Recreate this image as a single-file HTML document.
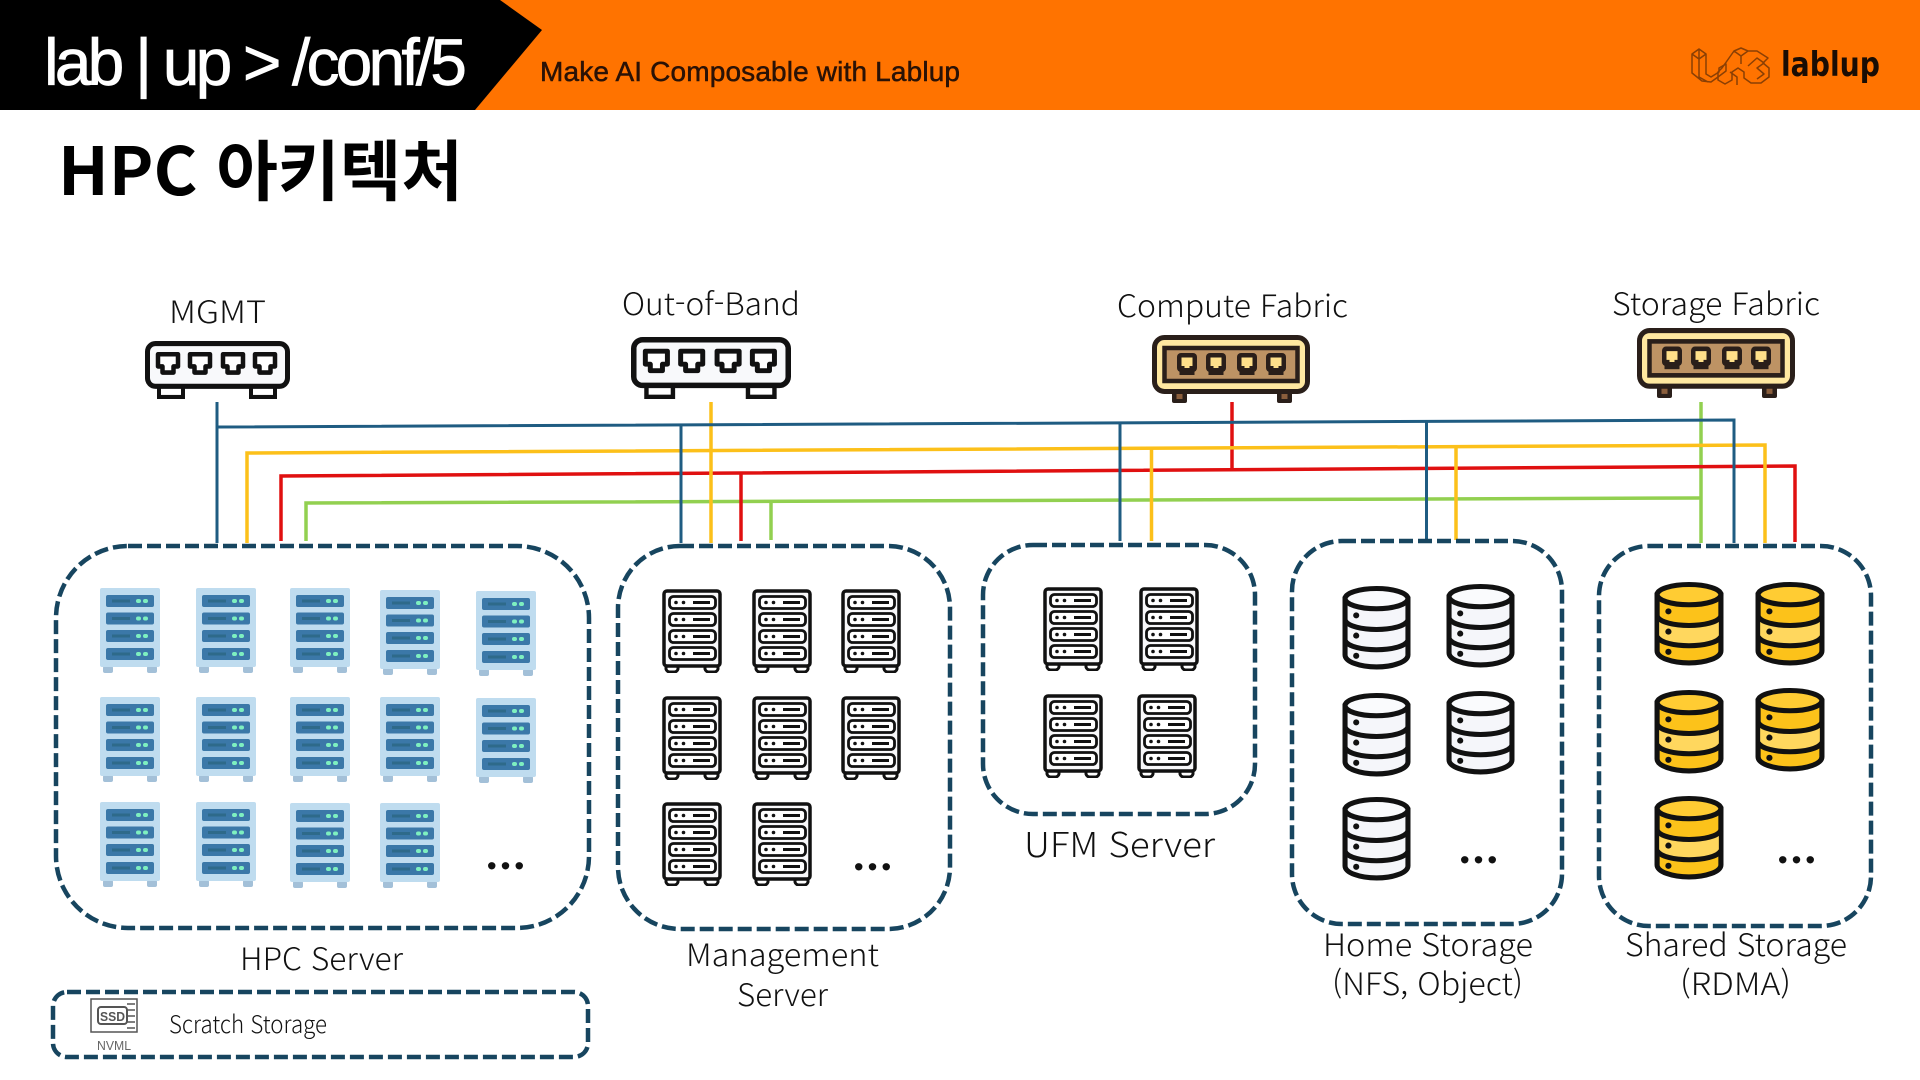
<!DOCTYPE html>
<html lang="ko"><head><meta charset="utf-8"><title>HPC 아키텍처</title>
<style>
html,body{margin:0;padding:0;background:#fff;width:1920px;height:1080px;overflow:hidden}
svg{display:block}
.l{font-family:"Noto Sans CJK KR","Liberation Sans",sans-serif;font-size:31px;fill:#111;font-weight:300}
.b{fill:none;stroke:#17455f;stroke-width:4.5;stroke-dasharray:14 5}
.d{font-family:"Liberation Serif",serif;font-size:46px;font-weight:700;fill:#111}
</style></head><body>
<svg width="1920" height="1080" viewBox="0 0 1920 1080" xmlns="http://www.w3.org/2000/svg">
<defs>
<symbol id="sb" viewBox="0 0 60 85" preserveAspectRatio="none">
<rect x="3" y="78" width="10" height="7" rx="2" fill="#a3c0d8"/><rect x="47" y="78" width="10" height="7" rx="2" fill="#a3c0d8"/>
<rect width="60" height="79" rx="2" fill="#bfdcef"/>
<g id="sl"><rect x="6" y="7" width="48" height="12" rx="2" fill="#3b78a8"/><rect x="12" y="11.500" width="18" height="3" fill="#2e6a8a"/><rect x="36" y="11" width="5" height="4" rx="2" fill="#7ef0c0"/><rect x="43" y="11" width="5" height="4" rx="2" fill="#7ef0c0"/></g>
<use href="#sl" y="17.500"/><use href="#sl" y="35"/><use href="#sl" y="53"/>
</symbol>
<symbol id="sk" viewBox="0 0 60 84" preserveAspectRatio="none">
<path d="M4 77v3a4 4 0 0 0 4 3h4a4 4 0 0 0 4-3v-3M43 77v3a4 4 0 0 0 4 3h5a4 4 0 0 0 4-3v-3" fill="#fff" stroke="#111" stroke-width="3"/>
<rect x="2" y="2" width="56" height="75" rx="3" fill="#f8f8fa" stroke="#111" stroke-width="3.500"/>
<g id="kl"><rect x="7.500" y="7.500" width="46" height="12" rx="4" fill="#fff" stroke="#111" stroke-width="2.800"/><circle cx="14" cy="13.500" r="1.800" fill="#111"/><circle cx="21.500" cy="13.500" r="1.800" fill="#111"/><rect x="31" y="12" width="17" height="3" fill="#111"/></g>
<use href="#kl" y="17"/><use href="#kl" y="34"/><use href="#kl" y="51"/>
</symbol>
<symbol id="cw" viewBox="0 0 68 83" preserveAspectRatio="none">
<path d="M3 13V68C3 75 18 80 34 80S65 75 65 68V13Z" fill="#f5f6fa" stroke="#111" stroke-width="5"/>
<ellipse cx="34" cy="12.500" rx="31" ry="10" fill="#fafbfd" stroke="#111" stroke-width="5"/>
<path d="M3 34C6 40 20 43 34 43S62 40 65 34M3 54C6 60 20 63 34 63S62 60 65 54" fill="none" stroke="#111" stroke-width="5"/>
<circle cx="14" cy="29" r="3" fill="#111"/><circle cx="14" cy="49" r="3" fill="#111"/><circle cx="14" cy="69" r="3" fill="#111"/>
</symbol>
<symbol id="cy" viewBox="0 0 68 83" preserveAspectRatio="none">
<path d="M3 13V68C3 75 18 80 34 80S65 75 65 68V13Z" fill="#fcc21a" stroke="#111" stroke-width="5"/>
<path d="M5 37C12 42 24 43 34 43S58 42 63 37V56C56 62 44 63 34 63S12 62 5 56Z" fill="#ffd75e"/>
<ellipse cx="34" cy="12.500" rx="31" ry="10" fill="#ffcc33" stroke="#111" stroke-width="5"/>
<path d="M3 34C6 40 20 43 34 43S62 40 65 34M3 54C6 60 20 63 34 63S62 60 65 54" fill="none" stroke="#111" stroke-width="5"/>
<circle cx="14" cy="29" r="3" fill="#111"/><circle cx="14" cy="49" r="3" fill="#111"/><circle cx="14" cy="69" r="3" fill="#111"/>
</symbol>
<path id="jk" d="M-10-9H10V3H5.500V9H-5.500V3H-10Z"/>
<symbol id="swk" viewBox="0 0 145 57" preserveAspectRatio="none">
<rect x="14" y="40" width="24" height="15" fill="#fff" stroke="#111" stroke-width="4"/><rect x="106" y="40" width="24" height="15" fill="#fff" stroke="#111" stroke-width="4"/>
<rect x="2.500" y="2.500" width="140" height="42" rx="8" fill="#f8f9fb" stroke="#111" stroke-width="5"/>
<g fill="#fff" stroke="#111" stroke-width="4.500" stroke-linejoin="round"><use href="#jk" x="23" y="22"/><use href="#jk" x="55" y="22"/><use href="#jk" x="88" y="22"/><use href="#jk" x="120" y="22"/></g>
</symbol>
<g id="pb"><rect x="-10" y="-11" width="20" height="19" rx="4" fill="#2a1f1a"/><path d="M-5.500-6.500H5.500V2H2.500V4H-2.500V2H-5.500Z" fill="#ffe08a"/><rect x="-7.500" y="6" width="15" height="5" fill="#2a1f1a"/></g>
<symbol id="swb" viewBox="0 0 158 68" preserveAspectRatio="none">
<rect x="20" y="52" width="15" height="16" rx="2" fill="#2a1f1a"/><rect x="125" y="52" width="15" height="16" rx="2" fill="#2a1f1a"/><rect x="24.500" y="58" width="6" height="6" fill="#8a5e3c"/><rect x="129.500" y="58" width="6" height="6" fill="#8a5e3c"/>
<rect x="2.500" y="2.500" width="153" height="54" rx="10" fill="#ffe8a0" stroke="#2a1f1a" stroke-width="5"/>
<rect x="12.500" y="13" width="133" height="33" fill="#bd9364" stroke="#2a1f1a" stroke-width="4.500"/>
<use href="#pb" x="35" y="29"/><use href="#pb" x="64" y="29"/><use href="#pb" x="95" y="29"/><use href="#pb" x="124" y="29"/>
</symbol>
</defs>

<!-- header -->
<rect width="1920" height="110" fill="#ff7300"/>
<polygon points="0,0 500,0 542,30 475,110 0,110" fill="#000"/>
<text x="44" y="85" textLength="423" lengthAdjust="spacing" font-family="Liberation Sans,sans-serif" font-size="66" fill="#fff" stroke="#fff" stroke-width=".7">lab | up &gt; /conf/5</text>
<text x="540" y="81" textLength="420" lengthAdjust="spacing" font-family="Liberation Sans,sans-serif" font-size="28" fill="#2a1206" stroke="#2a1206" stroke-width=".5">Make AI Composable with Lablup</text>
<text x="1781" y="76" textLength="99" lengthAdjust="spacingAndGlyphs" font-family="DejaVu Sans,sans-serif" font-weight="700" font-size="34" fill="#1a0d04">lablup</text>
<g fill="none" stroke="#8a3f04" stroke-width="1.500" stroke-linejoin="round">
<path d="M1692 54l7-5 7 5v20l5 3 8-5v-4l7-4v7l-8 6-7 5-9-1-10-8zM1699 49v10M1692 54l7 5 7-5M1699 59v18l9 5"/>
<path d="M1722 68l12-17 7-3 7 3 9 0 11 7-5 5 6 5v9l-8 6-10 0-7-5 0-6-6-4-6 4v8l-7 4-7-4v-8zM1734 51l7 5 7-5M1741 56v8M1730 72l7 5v8M1748 66l9-8 7 5-7 5 7 6-7 5"/>
</g>
<text x="58" y="195" textLength="405" lengthAdjust="spacingAndGlyphs" font-family="Noto Sans CJK KR,Liberation Sans,sans-serif" font-weight="700" font-size="66" fill="#000">HPC 아키텍처</text>

<!-- labels top -->
<text class="l" x="169" y="323" textLength="97" lengthAdjust="spacingAndGlyphs">MGMT</text>
<text class="l" x="622" y="315" textLength="178" lengthAdjust="spacingAndGlyphs">Out-of-Band</text>
<text class="l" x="1117" y="317" textLength="231" lengthAdjust="spacingAndGlyphs">Compute Fabric</text>
<text class="l" x="1612" y="315" textLength="208" lengthAdjust="spacingAndGlyphs">Storage Fabric</text>

<!-- switches -->
<use href="#swk" x="145" y="341" width="145" height="58"/>
<use href="#swk" x="631" y="337" width="160" height="62"/>
<use href="#swb" x="1152" y="335" width="158" height="68"/>
<use href="#swb" x="1637" y="328" width="158" height="70"/>

<!-- connectors -->
<g fill="none" stroke-linejoin="miter">
<g stroke="#92d050" stroke-width="3.500">
<path d="M306 541V503L1701 498"/><path d="M771 501V540"/><path d="M1701 402V543"/>
</g>
<g stroke="#e01010" stroke-width="3.500">
<path d="M281 541V476L1795 466V542"/><path d="M741 473V541"/><path d="M1232 402V470"/>
</g>
<g stroke="#fcc01a" stroke-width="3.500">
<path d="M247 543V453L1765 445V543"/><path d="M711 402V543"/><path d="M1151.500 449V541"/><path d="M1456 447V540"/>
</g>
<g stroke="#1f5c82" stroke-width="3">
<path d="M217 402V543"/><path d="M217 427L1734 420V543"/><path d="M681 425V543"/><path d="M1120 424V541"/><path d="M1426.500 422V541"/>
</g>
</g>

<!-- dashed groups -->
<rect class="b" x="56" y="546" width="533" height="382" rx="72"/>
<rect class="b" x="618" y="546" width="332" height="383" rx="62"/>
<rect class="b" x="983" y="545" width="272" height="269" rx="50"/>
<rect class="b" x="1292" y="541" width="270" height="383" rx="50"/>
<rect class="b" x="1599" y="546" width="272" height="380" rx="50"/>
<rect class="b" x="53" y="992" width="535" height="65" rx="14"/>

<!-- HPC servers -->
<g>
<use href="#sb" x="100" y="588" width="60" height="85"/><use href="#sb" x="196" y="588" width="60" height="85"/><use href="#sb" x="290" y="588" width="60" height="85"/><use href="#sb" x="380" y="590" width="60" height="85"/><use href="#sb" x="476" y="591" width="60" height="85"/>
<use href="#sb" x="100" y="697" width="60" height="85"/><use href="#sb" x="196" y="697" width="60" height="85"/><use href="#sb" x="290" y="697" width="60" height="85"/><use href="#sb" x="380" y="697" width="60" height="85"/><use href="#sb" x="476" y="698" width="60" height="85"/>
<use href="#sb" x="100" y="802" width="60" height="85"/><use href="#sb" x="196" y="802" width="60" height="85"/><use href="#sb" x="290" y="803" width="60" height="85"/><use href="#sb" x="380" y="803" width="60" height="85"/>
</g>
<text class="d" x="486" y="869" textLength="39">...</text>

<!-- Mgmt servers -->
<use href="#sk" x="662" y="589" width="60" height="84"/><use href="#sk" x="752" y="589" width="60" height="84"/><use href="#sk" x="841" y="589" width="60" height="84"/>
<use href="#sk" x="662" y="696" width="60" height="84"/><use href="#sk" x="752" y="696" width="60" height="84"/><use href="#sk" x="841" y="696" width="60" height="84"/>
<use href="#sk" x="662" y="802" width="60" height="84"/><use href="#sk" x="752" y="802" width="60" height="84"/>
<text class="d" x="853" y="870" textLength="39">...</text>

<!-- UFM -->
<use href="#sk" x="1043" y="587" width="60" height="84"/><use href="#sk" x="1139" y="587" width="60" height="84"/>
<use href="#sk" x="1043" y="694" width="60" height="84"/><use href="#sk" x="1137" y="694" width="60" height="84"/>

<!-- Home storage -->
<use href="#cw" x="1342" y="586" width="69" height="84"/><use href="#cw" x="1446" y="584" width="69" height="84"/>
<use href="#cw" x="1342" y="693" width="69" height="84"/><use href="#cw" x="1446" y="691" width="69" height="84"/>
<use href="#cw" x="1342" y="797" width="69" height="84"/>
<text class="d" x="1459" y="863" textLength="39">...</text>

<!-- Shared storage -->
<use href="#cy" x="1654" y="582" width="70" height="84"/><use href="#cy" x="1755" y="582" width="70" height="84"/>
<use href="#cy" x="1654" y="690" width="70" height="84"/><use href="#cy" x="1755" y="688" width="70" height="84"/>
<use href="#cy" x="1654" y="796" width="70" height="84"/>
<text class="d" x="1777" y="863" textLength="39">...</text>

<!-- group labels -->
<text class="l" x="240" y="970" textLength="163" lengthAdjust="spacingAndGlyphs">HPC Server</text>
<text class="l" x="686" y="966" textLength="193" lengthAdjust="spacingAndGlyphs">Management</text>
<text class="l" x="737" y="1006" textLength="91" lengthAdjust="spacingAndGlyphs">Server</text>
<text class="l" x="1024" y="857" textLength="191" lengthAdjust="spacingAndGlyphs" style="font-size:34px">UFM Server</text>
<text class="l" x="1323" y="956" textLength="210" lengthAdjust="spacingAndGlyphs">Home Storage</text>
<text class="l" x="1332" y="995" textLength="191" lengthAdjust="spacingAndGlyphs">(NFS, Object)</text>
<text class="l" x="1625" y="956" textLength="222" lengthAdjust="spacingAndGlyphs">Shared Storage</text>
<text class="l" x="1680" y="995" textLength="111" lengthAdjust="spacingAndGlyphs">(RDMA)</text>

<!-- scratch -->
<text class="l" x="169" y="1033" textLength="158" lengthAdjust="spacingAndGlyphs" style="font-size:24px">Scratch Storage</text>
<text x="97" y="1050" textLength="34" lengthAdjust="spacingAndGlyphs" font-family="Liberation Sans,sans-serif" font-size="13" fill="#666">NVML</text>
<g fill="none" stroke="#555" stroke-width="1.500">
<path d="M91 999H137V1032H91Z"/>
<rect x="98" y="1007" width="29" height="17" rx="3" stroke-width="2"/>
<path d="M127 1004h8M127 1010h8M127 1016h8M127 1022h8M127 1028h8"/>
</g>
<text x="100" y="1021" textLength="25" lengthAdjust="spacingAndGlyphs" font-family="Liberation Sans,sans-serif" font-weight="700" font-size="13" fill="#555">SSD</text>
</svg>
</body></html>
